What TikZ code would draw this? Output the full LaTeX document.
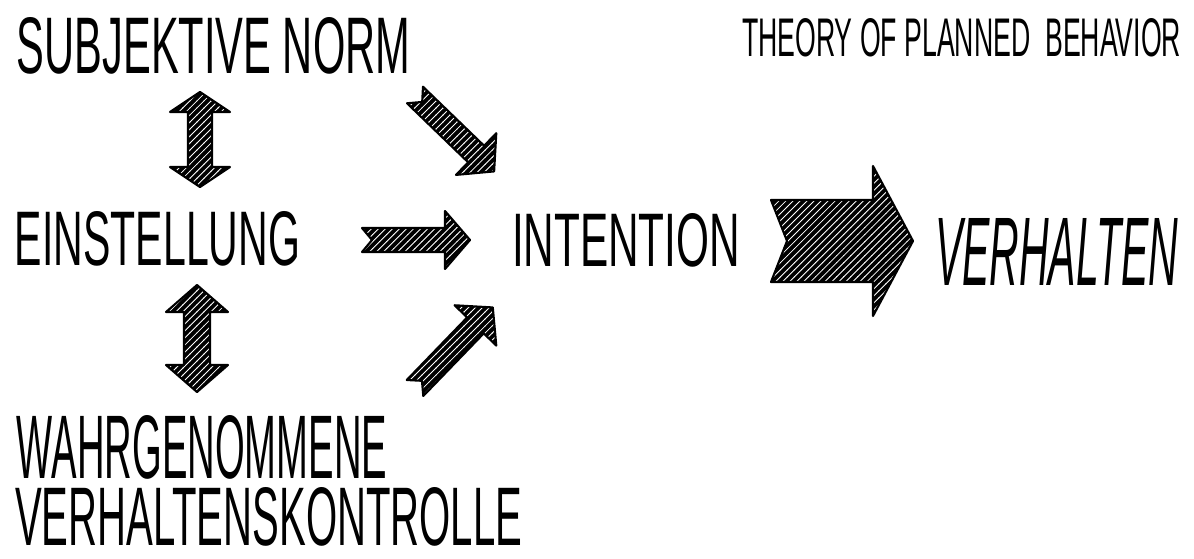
\documentclass[tikz,border=0pt]{standalone}
\usepackage{fontspec}
\setmainfont{Liberation Sans}
\usepackage{graphicx}
\usetikzlibrary{patterns}
\newdimen\px \px=0.7113pt
\pgfdeclarepatternformonly{hatchNE}{\pgfpoint{-1pt}{-1pt}}{\pgfpoint{6pt}{6pt}}{\pgfpoint{5pt}{5pt}}{%
  \pgfsetlinewidth{0.6pt}%
  \pgfpathmoveto{\pgfpoint{-0.2pt}{-0.2pt}}%
  \pgfpathlineto{\pgfpoint{5.2pt}{5.2pt}}%
  \pgfusepath{stroke}}
\newcommand{\fitbox}[3]{\resizebox{#1\px}{#2\px}{#3}}
\begin{document}
\begin{tikzpicture}[x=0.025cm,y=-0.025cm,
  hatch/.style={draw=black, line width=1.5pt, line join=round, preaction={fill=black}, pattern=hatchNE, pattern color=white},
  lbl/.style={anchor=north west, inner sep=0pt, outer sep=0pt},
  pics/fatarrow/.style n args={5}{code={%
    \path[hatch] (0,#2/2) -- (#1-#4,#2/2) -- (#1-#4,#3/2) -- (#1,0) -- (#1-#4,-#3/2) -- (#1-#4,-#2/2) -- (0,-#2/2) -- (#5,0) -- cycle;}},
  pics/dblarrow/.style n args={4}{code={%
    \path[hatch] (0,0) -- (#3/2,#4) -- (#2/2,#4) -- (#2/2,#1-#4) -- (#3/2,#1-#4) -- (0,#1) -- (-#3/2,#1-#4) -- (-#2/2,#1-#4) -- (-#2/2,#4) -- (-#3/2,#4) -- cycle;}}
]
\useasboundingbox[fill=white] (0,0) rectangle (1194,558);

% texts
\node[lbl] (subj)   at (17,17)  {\fitbox{393}{56}{SUBJEKTIVE NORM}};
\node[lbl] (title)  at (742,18) {\fitbox{439}{38}{THEORY OF PLANNED\ \ BEHAVIOR}};
\node[lbl] (einst)  at (15,211) {\fitbox{285}{54}{EINSTELLUNG}};
\node[lbl] (intent) at (512,213) {\fitbox{228}{53}{INTENTION}};
\node[lbl] (verh)   at (935,218) {\fitbox{243}{67}{\itshape VERHALTEN}};
\node[lbl] (wahr)   at (17,415) {\fitbox{370}{63}{WAHRGENOMMENE}};
\node[lbl] (kontr)  at (15,487) {\fitbox{507}{58}{VERHALTENSKONTROLLE}};

% block arrows
\pic at (200,92)  {dblarrow={95}{24}{60}{20}};
\pic at (197,285) {dblarrow={107}{26}{62}{27}};
\pic at (362,240) {fatarrow={108}{24}{58}{25}{10}};
\pic[rotate=-44] at (415,95) {fatarrow={110}{23}{58}{25}{10}};
\pic[rotate=46] at (415,388) {fatarrow={112}{23}{58}{25}{10}};
\pic at (771,241) {fatarrow={142}{82}{150}{40}{16}};
\end{tikzpicture}
\end{document}
